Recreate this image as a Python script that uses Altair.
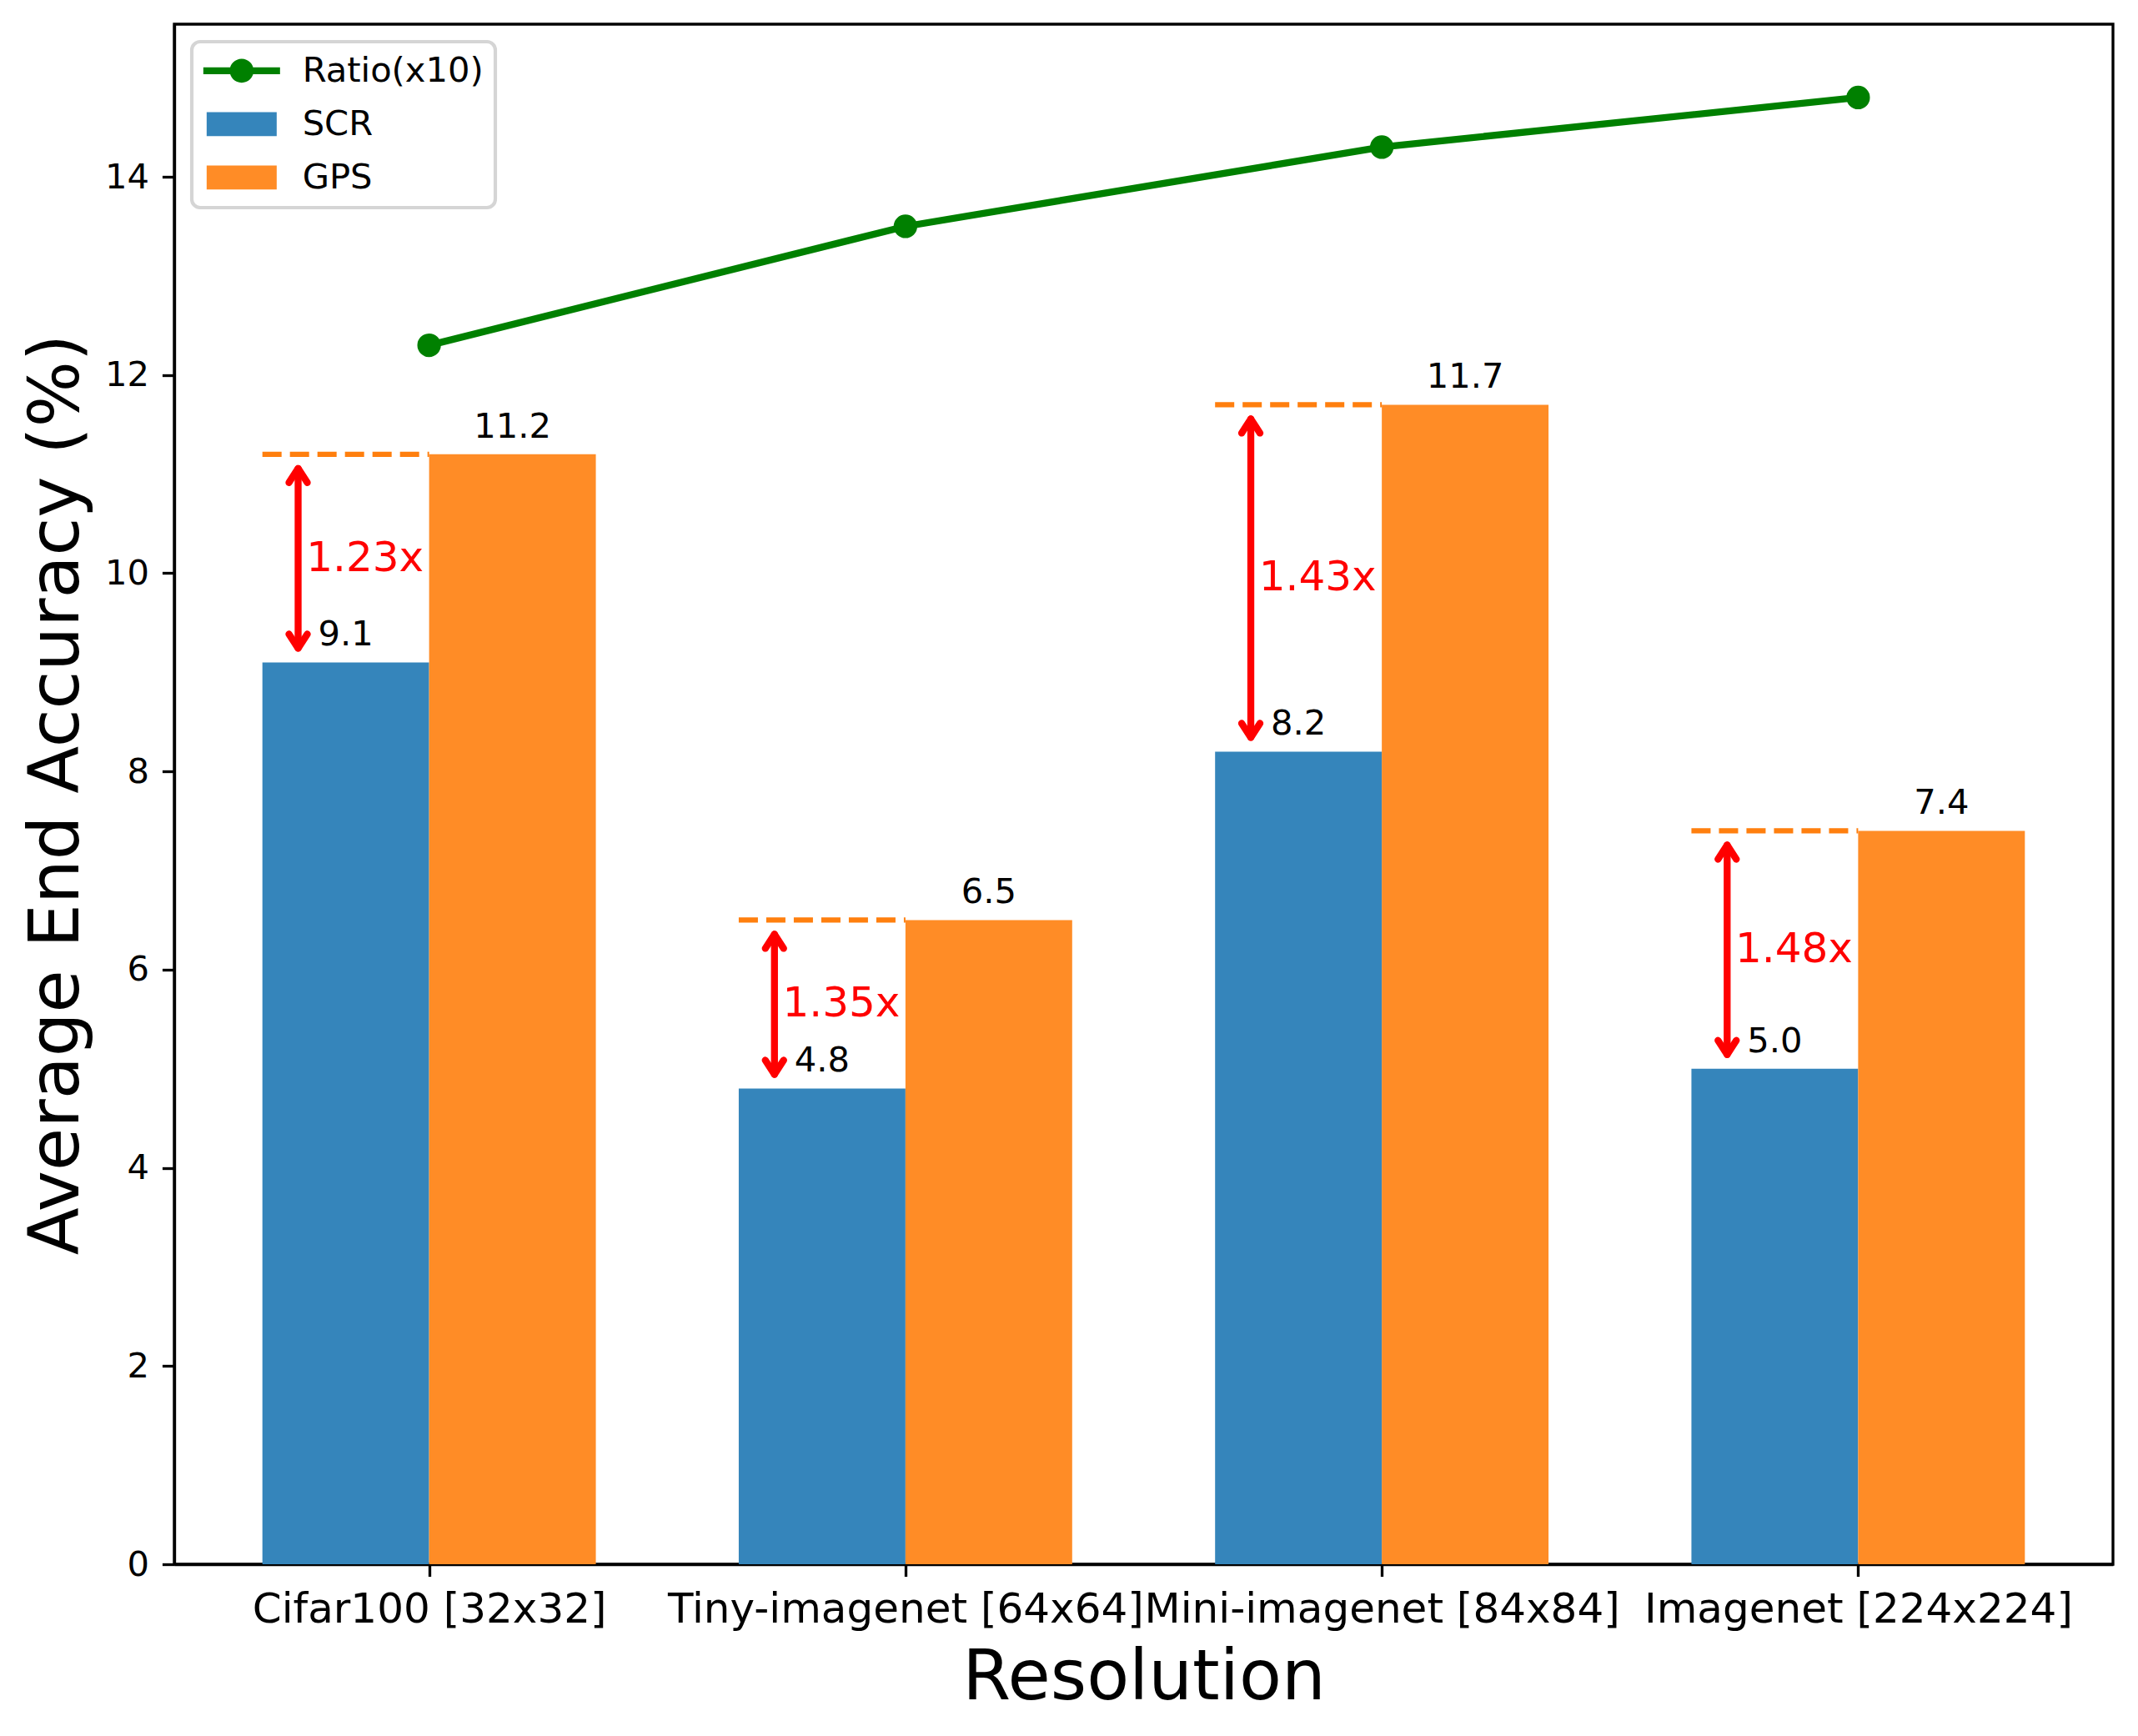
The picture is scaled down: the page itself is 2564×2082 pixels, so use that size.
import altair as alt
import pandas as pd

# ---- data ----
categories = ["Cifar100 [32x32]", "Tiny-imagenet [64x64]", "Mini-imagenet [84x84]", "Imagenet [224x224]"]
scr = [9.1, 4.8, 8.2, 5.0]
gps = [11.2, 6.5, 11.7, 7.4]
ratio_x10 = [12.3, 13.5, 14.3, 14.8]
ratio_labels = ["1.23x", "1.35x", "1.43x", "1.48x"]
y_ticks = [0, 2, 4, 6, 8, 10, 12, 14]
series_names = ["Ratio(x10)", "SCR", "GPS"]

# ---- styling ----
BAR_W = 0.35
BLUE = "#3585bb"
ORANGE = "#ff8c26"
GREEN = "#008000"
RED = "#ff0000"
FONT = "DejaVu Sans"
PT = 300 / 72.0  # px per point

W, H = 2325, 1847

idx = list(range(len(categories)))
df = pd.DataFrame({
    "idx": idx,
    "cat": categories,
    "scr": scr,
    "gps": gps,
    "ratio": ratio_x10,
    "rlabel": ratio_labels,
})

bars_long = pd.concat([
    pd.DataFrame({"idx": idx, "series": "SCR", "value": scr, "off": -BAR_W}),
    pd.DataFrame({"idx": idx, "series": "GPS", "value": gps, "off": 0.0}),
], ignore_index=True)

all_long = pd.concat([
    pd.DataFrame({"idx": idx, "series": "Ratio(x10)", "value": ratio_x10}),
    bars_long[["idx", "series", "value"]],
], ignore_index=True)

xscale = alt.Scale(domain=[-0.535, 3.535], nice=False, zero=False)
yscale = alt.Scale(domain=[0, 15.54], nice=False, zero=True)

label_expr = "[" + ",".join("'" + c + "'" for c in categories) + "][datum.value]"

x_axis = alt.Axis(
    values=idx, labelExpr=label_expr, grid=False,
    title="Resolution", titleFontSize=20 * PT, titleFont=FONT, titleFontWeight="normal",
    titleColor="black", titleBaseline="alphabetic", titleY=161, titleX=W / 2,
    labelFontSize=12 * PT, labelFont=FONT, labelColor="black", labelBaseline="alphabetic",
    labelPadding=55, tickSize=3.5 * PT, tickWidth=0.8 * PT, tickColor="black",
    domainColor="black", domainWidth=0.8 * PT, labelFlush=False, labelOverlap=False,
    labelLimit=0,
)
y_axis = alt.Axis(
    values=y_ticks, grid=False, format="d",
    title="Average End Accuracy (%)", titleFontSize=20 * PT, titleFont=FONT,
    titleFontWeight="normal", titleColor="black", titleAngle=270,
    titleBaseline="alphabetic", titleAlign="center", titleX=-116, titleY=H / 2,
    labelFontSize=10 * PT, labelFont=FONT, labelColor="black", labelPadding=16,
    tickSize=3.5 * PT, tickWidth=0.8 * PT, tickColor="black",
    domainColor="black", domainWidth=0.8 * PT, labelFlush=False,
)

line_path = ("M-2.3,-0.21H2.3V0.21H-2.3Z "
             "M-0.72,0A0.72,0.72 0 1,1 0.72,0A0.72,0.72 0 1,1 -0.72,0Z")
patch_path = "M-2.1,-0.72H2.1V0.72H-2.1Z"

legend = alt.Legend(
    title=None, orient="top-left", offset=21,
    labelFont=FONT, labelFontSize=10 * PT, labelColor="black", labelLimit=0,
    symbolSize=1600, symbolOffset=25, labelOffset=52, rowPadding=21,
    padding=14, fillColor="white", strokeColor="#d5d5d5",
    cornerRadius=10, symbolStrokeWidth=0, symbolOpacity=1,
)

color_scale = alt.Scale(domain=series_names, range=[GREEN, BLUE, ORANGE])
shape_scale = alt.Scale(domain=series_names, range=[line_path, patch_path, patch_path])

base_bars = alt.Chart(bars_long).transform_calculate(
    x0="datum.idx + datum.off", x1="datum.idx + datum.off + " + str(BAR_W)
)

bars = base_bars.mark_rect(strokeWidth=0).encode(
    x=alt.X("x0:Q", scale=xscale, axis=x_axis),
    x2="x1:Q",
    y=alt.Y("value:Q", scale=yscale, axis=y_axis),
    y2=alt.datum(0),
    color=alt.Color("series:N", scale=color_scale, legend=legend),
)

# layer that draws nothing and carries the legend (colour + shape of each series)
legend_layer = alt.Chart(all_long).transform_filter("false").mark_point(
    filled=True, opacity=1
).encode(
    x=alt.X("idx:Q", scale=xscale),
    y=alt.Y("value:Q", scale=yscale),
    color=alt.Color("series:N", scale=color_scale, legend=legend),
    shape=alt.Shape("series:N", scale=shape_scale, legend=legend),
)

bar_labels = alt.Chart(bars_long).transform_calculate(
    xc="datum.idx + datum.off + " + str(BAR_W / 2),
    lab="format(datum.value, '.1f')",
).mark_text(font=FONT, fontSize=10 * PT, color="black", align="center",
            baseline="alphabetic", dy=-20).encode(
    x=alt.X("xc:Q", scale=xscale),
    y=alt.Y("value:Q", scale=yscale),
    text="lab:N",
)

base = alt.Chart(df)

dashed = base.transform_calculate(
    xa="datum.idx - " + str(BAR_W), xb="datum.idx"
).mark_rule(color="#ff7f0e", strokeWidth=1.5 * PT, strokeDash=[23, 10]).encode(
    x=alt.X("xa:Q", scale=xscale), x2="xb:Q",
    y=alt.Y("gps:Q", scale=yscale),
)

arrow_x = base.transform_calculate(ax="datum.idx - 0.275", tx="datum.idx - 0.258")

shaft = arrow_x.mark_rule(color=RED, strokeWidth=2 * PT, strokeCap="round",
                          yOffset=-17, y2Offset=17).encode(
    x=alt.X("ax:Q", scale=xscale),
    y=alt.Y("scr:Q", scale=yscale), y2="gps:Q",
)

head_up = arrow_x.mark_point(shape="M-0.55,0.85L0,0L0.55,0.85", filled=False, size=1600,
                             stroke=RED, strokeWidth=2 * PT, strokeCap="round",
                             strokeJoin="round", opacity=1, yOffset=17).encode(
    x=alt.X("ax:Q", scale=xscale),
    y=alt.Y("gps:Q", scale=yscale),
)
head_down = arrow_x.mark_point(shape="M-0.55,-0.85L0,0L0.55,-0.85", filled=False, size=1600,
                               stroke=RED, strokeWidth=2 * PT, strokeCap="round",
                               strokeJoin="round", opacity=1, yOffset=-17).encode(
    x=alt.X("ax:Q", scale=xscale),
    y=alt.Y("scr:Q", scale=yscale),
)

ratio_text = arrow_x.transform_calculate(
    ym="(datum.scr + datum.gps) / 2"
).mark_text(font=FONT, fontSize=12 * PT, color=RED, align="left", baseline="middle").encode(
    x=alt.X("tx:Q", scale=xscale),
    y=alt.Y("ym:Q", scale=yscale),
    text="rlabel:N",
)

ratio_line = base.mark_line(color=GREEN, strokeWidth=2 * PT).encode(
    x=alt.X("idx:Q", scale=xscale),
    y=alt.Y("ratio:Q", scale=yscale),
)
ratio_pts = base.mark_point(filled=True, color=GREEN, size=800, opacity=1, shape="circle").encode(
    x=alt.X("idx:Q", scale=xscale),
    y=alt.Y("ratio:Q", scale=yscale),
)

chart = alt.layer(
    bars, dashed, shaft, head_up, head_down, ratio_text, bar_labels,
    ratio_line, ratio_pts, legend_layer
).properties(
    width=W, height=H,
    autosize=alt.AutoSizeParams(type="none"),
    padding={"left": 201, "top": 21, "right": 20, "bottom": 190},
    background="white",
).configure_view(
    stroke="black", strokeWidth=0.8 * PT
).configure_axis(
    zindex=1
).configure_legend(
    strokeWidth=1.0 * PT
)

chart.save("out.html", embed_options={"renderer": "svg", "actions": False})
